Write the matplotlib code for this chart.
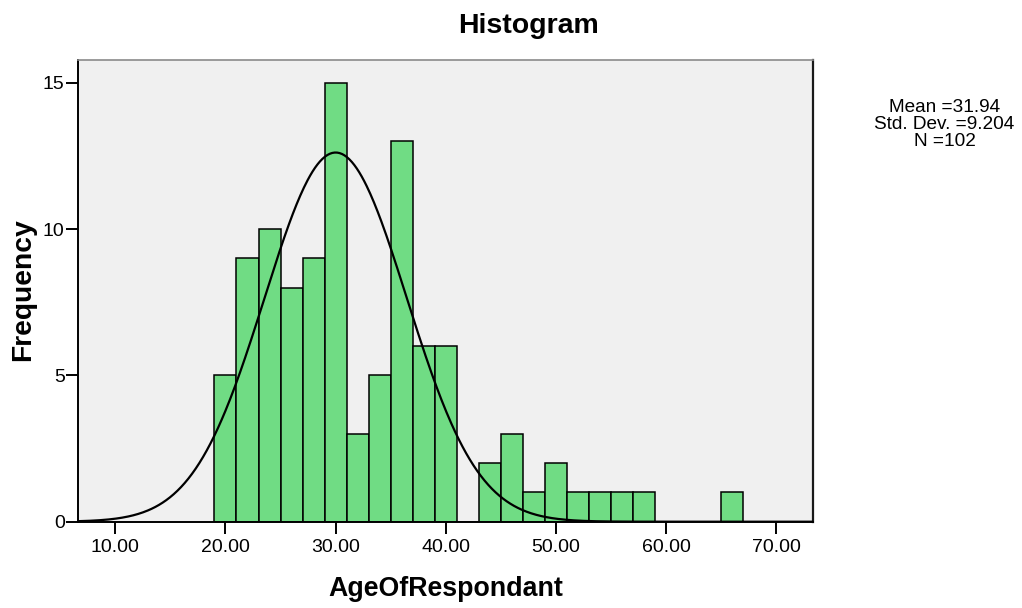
import numpy as np
import matplotlib
matplotlib.use("Agg")
import matplotlib.pyplot as plt

# Age histogram data: bins of width 2 starting at 19
bin_start = 19.0
bin_width = 2.0
counts = [5, 9, 10, 8, 9, 15, 3, 5, 13, 6, 6, 0, 2, 3, 1, 2, 1, 1, 1, 1, 0, 0, 0, 1]

# Summary statistics shown in the side box
mean_age = 31.94
std_age = 9.204
n_obs = 102

# Fitted normal curve as drawn over the bars
curve_center = 30.0
curve_spread = 6.45

x_ticks = [10, 20, 30, 40, 50, 60, 70]
y_ticks = [0, 5, 10, 15]

plt.rcParams['font.family'] = ['Liberation Sans', 'DejaVu Sans']

W, H = 1022, 608
fig = plt.figure(figsize=(W / 100, H / 100), dpi=100)
ax = fig.add_axes([78 / W, 1 - 521.7 / H, 735 / W, (521.7 - 60) / H])
ax.set_facecolor('#f0f0f0')

edges = bin_start + bin_width * np.arange(len(counts))
ax.bar(edges, counts, width=bin_width, align='edge', color='#70dc84',
       edgecolor='black', linewidth=1.1, zorder=2)

xs = np.linspace(6.6, 73.4, 600)
ys = n_obs * bin_width / (curve_spread * np.sqrt(2 * np.pi)) * \
    np.exp(-0.5 * ((xs - curve_center) / curve_spread) ** 2)
ax.plot(xs, ys, color='black', linewidth=1.6, zorder=3)

ax.set_xlim(6.616, 73.32)
ax.set_ylim(0, 15.78)
ax.set_xticks(x_ticks)
ax.set_xticklabels([f"{v:.2f}" for v in x_ticks])
ax.set_yticks(y_ticks)
ax.tick_params(axis='both', direction='out', length=8.6, width=1.4,
               labelsize=14, colors='black')
ax.tick_params(axis='x', pad=3.5)
ax.tick_params(axis='y', pad=1)

for side in ('left', 'bottom'):
    ax.spines[side].set_linewidth(1.4)
    ax.spines[side].set_color('black')
ax.spines['top'].set_color('#8a8a8a')
ax.spines['top'].set_linewidth(1.2)
ax.spines['right'].set_color('#1a1a1a')
ax.spines['right'].set_linewidth(1.6)

ax.set_xlabel('AgeOfRespondant', fontsize=19.3, fontweight='bold', labelpad=15)
fig.text(23 / W, 1 - 290 / H, 'Frequency', fontsize=20.3, fontweight='bold',
         rotation=90, ha='center', va='center')

fig.text(528 / W, 1 - 33 / H, 'Histogram', fontsize=20.5,
         fontweight='bold', ha='center', va='baseline')

stat_lines = [f"Mean ={mean_age:.2f}", f"Std. Dev. ={std_age:.3f}", f"N ={n_obs}"]
for i, line in enumerate(stat_lines):
    fig.text(944.5 / W, 1 - (112 + 17 * i) / H, line, fontsize=13.7,
             ha='center', va='baseline')

fig.savefig('out.png', dpi=100, facecolor='white')
